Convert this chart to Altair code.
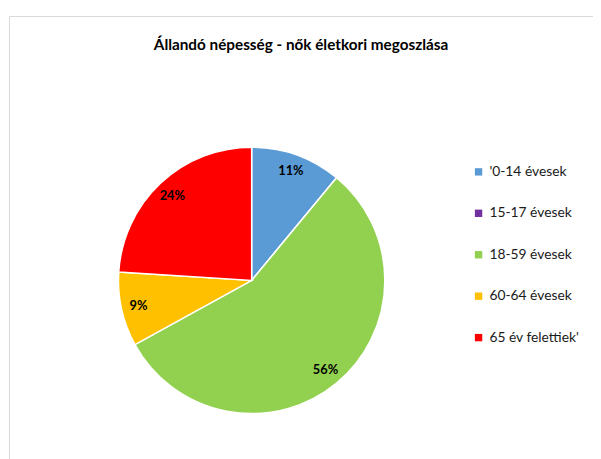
import altair as alt
import pandas as pd

categories = ["'0-14 évesek", "15-17 évesek", "18-59 évesek", "60-64 évesek", "65 év felettiek'"]
shares = [11, 0, 56, 9, 24]
colors = ["#5B9BD5", "#7030A0", "#92D050", "#FFC000", "#FF0000"]
title_text = "Állandó népesség - nők életkori megoszlása"

df = pd.DataFrame({
    "kat": categories,
    "ertek": shares,
    "idx": list(range(len(categories))),
    "cimke": [f"{v}%" if v > 0 else "" for v in shares],
})

R = 135
CX, CY = 246, 268
FONT = "Lato"

base = alt.Chart(df).encode(
    theta=alt.Theta("ertek:Q", stack=True),
    order=alt.Order("idx:Q"),
)

pie = base.mark_arc(radius=R, stroke="white", strokeWidth=1.5).encode(
    color=alt.Color(
        "kat:N",
        scale=alt.Scale(domain=categories, range=colors),
        legend=alt.Legend(
            title=None,
            orient="none",
            legendX=469,
            legendY=151,
            symbolType="square",
            symbolSize=56,
            symbolStrokeWidth=0,
            labelFontSize=14,
            labelFont=FONT,
            labelColor="#1a1a1a",
            rowPadding=28,
            labelOffset=4,
        ),
    ),
    x=alt.value(CX),
    y=alt.value(CY),
)

text = base.transform_filter("datum.ertek > 0").mark_text(
    radius=R * 0.87, font=FONT, fontSize=13, fontWeight="bold", color="black"
).encode(
    text="cimke:N",
    x=alt.value(CX),
    y=alt.value(CY),
)

chart = alt.layer(pie, text).properties(
    width=592,
    height=450,
    title=alt.Title(title_text, font=FONT, fontSize=15.5, fontWeight="bold",
                    color="black", anchor="middle", offset=-38),
    autosize=alt.AutoSizeParams(type="none"),
    padding={"left": 1, "top": 5, "right": 0, "bottom": 0},
).configure_view(stroke="#d9d9d9", strokeWidth=1)

chart.save("out.html", embed_options={"renderer": "svg", "actions": False})
